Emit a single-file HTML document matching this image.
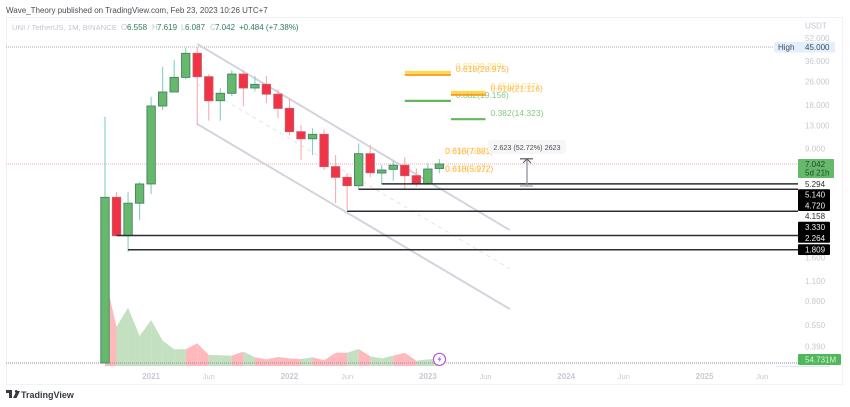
<!DOCTYPE html>
<html lang="en">
<head>
<meta charset="utf-8">
<title>UNI / TetherUS monthly chart</title>
<style>
html,body{margin:0;padding:0;background:#fff;width:850px;height:407px;overflow:hidden}
svg{display:block;font-family:"Liberation Sans",sans-serif;filter:blur(0.3px)}
</style>
</head>
<body>
<svg id="chart" width="850" height="407" viewBox="0 0 850 407" xmlns="http://www.w3.org/2000/svg">
  <rect x="0" y="0" width="850" height="407" fill="#ffffff"/>
  <text x="6" y="13" font-size="8" fill="#4a4d55">Wave_Theory published on TradingView.com, Feb 23, 2023 10:26 UTC+7</text>
  <rect x="6.5" y="17.5" width="836" height="367" fill="none" stroke="#f0f2f7" stroke-width="1"/>
  <g font-size="8">
    <text x="12" y="30" font-size="7.7" fill="#c3c7d0">UNI / TetherUS, 1M, BINANCE</text>
    <text x="121" y="30" fill="#c3c7d0">O</text>
    <text x="127" y="30" fill="#2f7d5b">6.558</text>
    <text x="152" y="30" fill="#c3c7d0">H</text>
    <text x="157" y="30" fill="#2f7d5b">7.619</text>
    <text x="181" y="30" fill="#c3c7d0">L</text>
    <text x="185" y="30" fill="#2f7d5b">6.087</text>
    <text x="210" y="30" fill="#c3c7d0">C</text>
    <text x="215" y="30" fill="#2f7d5b">7.042</text>
    <text x="239" y="30" fill="#2f7d5b">+0.484 (+7.38%)</text>
  </g>
  <g id="volume-layer"></g>
  <g id="guide-layer"></g>
  <g id="channel-layer"></g>
  <g id="candle-layer"></g>
  <g id="level-layer"></g>
  <g id="fib-layer"></g>
  <g>
    <line x1="527" y1="160" x2="527" y2="186" stroke="#8f9299" stroke-width="1.3"/>
    <line x1="520" y1="158.8" x2="533" y2="158.8" stroke="#55585f" stroke-width="1.2"/>
    <line x1="520" y1="186" x2="533" y2="186" stroke="#a5a8ae" stroke-width="1.2"/>
    <path d="M523 163 L527 159 L531 163" fill="none" stroke="#55585f" stroke-width="1"/>
    <rect x="488" y="140" width="78" height="14" rx="3" fill="#f6f6f7"/>
    <text x="527" y="149.8" font-size="7.2" text-anchor="middle" fill="#4a4d55">2.623 (52.72%) 2623</text>
  </g>
  <g>
    <circle cx="439.5" cy="359.3" r="6" fill="#ffffff" stroke="#b256cf" stroke-width="1.2"/>
    <path d="M441 355.5 L437.5 359.8 L439.6 359.8 L438 363 L441.6 358.6 L439.5 358.6 Z" fill="#b256cf"/>
  </g>
  <g id="axis-layer">
    <text x="805" y="28.5" font-size="8" fill="#c3c7d0">USDT</text>
  </g>
  <g>
    <path d="M6 390 H12 V398 H9 V393 H6 Z M16.2 390 A1.4 1.4 0 1 1 16.19 390 Z M13 398 L16.5 391 H20 L16.5 398 Z" fill="#363a45"/>
    <text x="21" y="398" font-size="9" font-weight="bold" fill="#363a45">TradingView</text>
  </g>
</svg>
<script>
const opens  = [0.30,4.15,2.26,3.78,5.13,17.66,22.05,27.8,40.7,28.1,19.2,21.6,29.3,23.5,24.9,21.3,17.0,11.75,10.5,11.27,6.75,5.70,4.99,8.29,6.10,6.47,6.90,5.85,5.15,6.558];
const highs  = [14.9,4.52,4.52,5.29,20.46,32.9,36.6,44.5,45.0,29.3,23.4,31.2,31.2,28.4,28.4,23.0,19.8,13.06,12.4,12.2,8.12,6.10,9.77,9.51,6.93,7.42,7.82,6.57,7.12,7.619];
const lows   = [0.30,2.26,1.75,2.90,4.37,16.6,22.05,27.0,13.06,13.99,13.99,20.7,17.66,22.3,18.5,14.6,11.15,7.5,8.12,6.4,3.79,3.40,4.72,5.70,5.13,5.40,4.74,4.91,5.15,6.087];
const closes = [4.15,2.26,3.78,5.13,17.66,22.05,27.8,40.7,28.1,19.2,21.6,29.3,23.5,24.9,21.3,17.0,11.75,10.5,11.27,6.75,5.70,4.99,8.29,6.13,6.40,6.90,5.85,5.15,6.50,7.042];
const volumes = [696,307,456,235,360,198,131,131,178,86,84,81,112,68,52,70,60,55,68,45,104,104,133,76,60,81,104,41,52,54.731];
const priceTicks = [52,36,26,18,13,9,1.6,1.1,0.8,0.55,0.39];
const timeTickLabels = ["2021","Jun","2022","Jun","2023","Jun","2024","Jun","2025","Jun"];
const timeTickBars = [4,9,16,21,28,33,40,45,52,57];
const levelPrices = [5.14,4.72,3.33,2.264,1.809];
const levelStartBars = [24,22,21,1,2];
const fibPrices = [30.289,28.975,19.156,22.037,21.116,14.323];
const fibRatios = ["0.65","0.618","0.382","0.65","0.618","0.382"];
const fibStartBars = [26,26,26,30,30,30];
const fibEndBars = [30,30,30,33,33,33];
const fibLabelOnlyPrices = [7.932,7.881,5.922,5.972];
const fibLabelOnlyRatios = ["0.65","0.618","0.65","0.618"];
const channelStartPrices = [47.2,25.0,13.27];
const channelEndPrices = [2.47,1.34,0.707];
const channelStartBar = 8;
const channelEndBar = 35.1;
const highPrice = 45;
const lastPrice = 7.042;

const svgNS = "http://www.w3.org/2000/svg";
function xAt(i){return 105 + 11.53*i;}
function priceY(p){return 47 + Math.log(45/p)*63.07;}
function volY(v){return 366 - v/7.82;}
function mk(parent,tag,attrs,txt){
  const el=document.createElementNS(svgNS,tag);
  for(const k in attrs){el.setAttribute(k,attrs[k]);}
  if(txt!==undefined){el.textContent=txt;}
  parent.appendChild(el);
  return el;
}
const GREEN="#66b96a",GREEN_EDGE="#47806a",GREEN_WICK="#86d0bf";
const RED="#f23345",RED_EDGE="#c65a68",RED_WICK="#f9a9b0";

/* volume area */
const volLayer=document.getElementById("volume-layer");
for(let i=1;i<volumes.length;i++){
  const up=closes[i]>=opens[i];
  const d="M"+xAt(i-1)+" 366 L"+xAt(i-1)+" "+volY(volumes[i-1])+" L"+xAt(i)+" "+volY(volumes[i])+" L"+xAt(i)+" 366 Z";
  const seg=mk(volLayer,"path",{d:d,fill:up?"#c3e0c1":"#ffb9bd"});
  
  
}

/* guide lines */
const guides=document.getElementById("guide-layer");
const hl=mk(guides,"line",{x1:6,x2:775,y1:priceY(highPrice),y2:priceY(highPrice),stroke:"#a9abb2","stroke-width":1,"stroke-dasharray":"1 1"});


const lp=mk(guides,"line",{x1:6,x2:798,y1:priceY(lastPrice),y2:priceY(lastPrice),stroke:"#f7a6ac","stroke-width":1,"stroke-dasharray":"1 1"});


const vb=mk(guides,"line",{x1:6,x2:798,y1:363,y2:363,stroke:"#8d8f96","stroke-width":1,"stroke-dasharray":"1 1"});


const vu=mk(guides,"line",{x1:776,x2:830,y1:366.5,y2:366.5,stroke:"#dbe8fa","stroke-width":1});



/* channel */
const channel=document.getElementById("channel-layer");
for(let i=0;i<channelStartPrices.length;i++){
  const attrs={x1:xAt(channelStartBar),x2:xAt(channelEndBar),y1:priceY(channelStartPrices[i]),y2:priceY(channelEndPrices[i])};
  if(i===1){attrs.stroke="#e2e4ea";attrs["stroke-width"]=1;attrs["stroke-dasharray"]="4 4";}
  else{attrs.stroke="#d2d4de";attrs["stroke-width"]=2;}
  const ln=mk(channel,"line",attrs);
  
  
}

/* candles */
const candles=document.getElementById("candle-layer");
for(let i=0;i<opens.length;i++){
  const up=closes[i]>=opens[i];
  const x=xAt(i);
  const g=mk(candles,"g",{});
  
  
  mk(g,"line",{x1:x,x2:x,y1:priceY(highs[i]),y2:priceY(lows[i]),stroke:up?GREEN_WICK:RED_WICK,"stroke-width":1.1});
  const t=priceY(Math.max(opens[i],closes[i]));
  const b=priceY(Math.min(opens[i],closes[i]));
  mk(g,"rect",{x:x-4.2,y:t,width:8.4,height:Math.max(b-t,1),fill:up?GREEN:RED,stroke:up?GREEN_EDGE:RED_EDGE,"stroke-width":0.9});
}

/* support levels */
const levels=document.getElementById("level-layer");
for(let i=0;i<levelPrices.length;i++){
  const ln=mk(levels,"line",{x1:xAt(levelStartBars[i]),x2:798,y1:priceY(levelPrices[i]),y2:priceY(levelPrices[i]),stroke:"#2b2d33","stroke-width":1.5});
  
  
}

/* fibonacci */
const fibs=document.getElementById("fib-layer");
function fibColor(r){return r==="0.65"?"#ffdb3d":(r==="0.618"?"#ff9d1c":"#66b45f");}
function fibTextColor(r){return r==="0.65"?"#ffe27a":(r==="0.618"?"#ffb347":"#85c982");}
for(let i=0;i<fibPrices.length;i++){
  const y=priceY(fibPrices[i]);
  const ln=mk(fibs,"line",{x1:xAt(fibStartBars[i]),x2:xAt(fibEndBars[i]),y1:y,y2:y,stroke:fibColor(fibRatios[i]),"stroke-width":2.2});
  
  
  const tx=mk(fibs,"text",{x:xAt(fibEndBars[i])+5,y:y-3,"font-size":8.5,fill:fibTextColor(fibRatios[i])},fibRatios[i]+"("+fibPrices[i].toFixed(3)+")");
  
  
}
for(let i=0;i<fibLabelOnlyPrices.length;i++){
  const y=priceY(fibLabelOnlyPrices[i]);
  const tx=mk(fibs,"text",{x:xAt(29.5),y:y-3,"font-size":8.5,fill:fibTextColor(fibLabelOnlyRatios[i])},fibLabelOnlyRatios[i]+"("+fibLabelOnlyPrices[i].toFixed(3)+")");
  
  
}

/* axes */
const axis=document.getElementById("axis-layer");
const TICK="#c6c9d2";
for(let i=0;i<priceTicks.length;i++){
  const tx=mk(axis,"text",{x:805,y:priceY(priceTicks[i])+3,"font-size":8,fill:TICK},priceTicks[i].toFixed(3));
  
  
}
for(let i=0;i<timeTickLabels.length;i++){
  const bold=timeTickLabels[i]!=="Jun";
  const tx=mk(axis,"text",{x:xAt(timeTickBars[i]),y:379,"font-size":bold?8:7.5,"font-weight":bold?"bold":"normal","text-anchor":"middle",fill:TICK},timeTickLabels[i]);
  
  
}
function box(name,x,y,w,h,fill){
  const r=mk(axis,"rect",{x:x,y:y,width:w,height:h,fill:fill,rx:1});
  
  
}
function lab(name,x,y,t,fill){
  const tx=mk(axis,"text",{x:x,y:y,"font-size":8,fill:fill},t);
  
  
}
box('high-label-box',774,42,61,10.5,"#e3effc");
lab('high-label',778,50,"High","#3d4a5c");
lab('high-price-value',805,50,highPrice.toFixed(3),"#3d4a5c");
box('last-price-box',798,159,36,19,"#66b96a");
lab('last-price-value',805,167,lastPrice.toFixed(3),"#1f4a2c");
lab('countdown-value',805,175.5,"5d 21h","#1f4a2c");
lab('level-5-294-value',805,187,"5.294","#2b2d33");
box('levels-box-upper',798,189.3,32,21.7,"#000000");
lab('level-5-140-value',805,197.5,"5.140","#f0f0f0");
lab('level-4-720-value',805,208.5,"4.720","#f0f0f0");
lab('level-4-158-value',805,219,"4.158","#2b2d33");
box('levels-box-middle',798,221.7,32,21,"#000000");
lab('level-3-330-value',805,230,"3.330","#f0f0f0");
lab('level-2-264-value',805,241,"2.264","#f0f0f0");
box('levels-box-lower',798,244.3,32,10.7,"#000000");
lab('level-1-809-value',805,252.5,"1.809","#f0f0f0");
box('volume-value-box',798,354,43,11,"#4fb85a");
lab('volume-value',805,362.5,"54.731M","#d9f2dc");
</script>
</body>
</html>
